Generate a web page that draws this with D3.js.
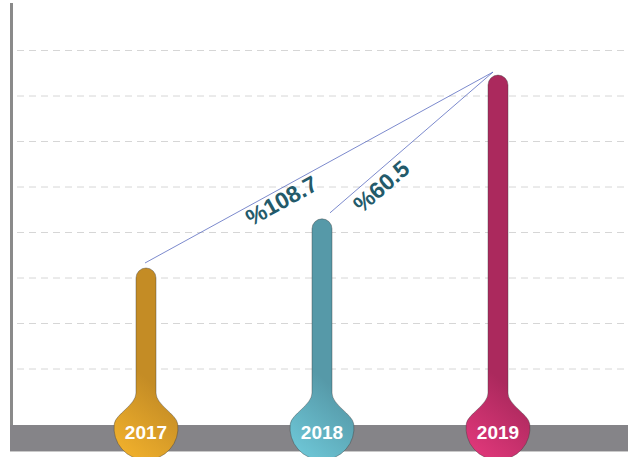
<!DOCTYPE html>
<html>
<head>
<meta charset="utf-8">
<script src="https://cdn.jsdelivr.net/npm/d3@7"></script>
<style>
html,body{margin:0;padding:0;background:#fff;}
svg{display:block;}
</style>
</head>
<body>
<svg id="chart" width="637" height="457"></svg>
<script>
// ---- data ----
const years = ["2017", "2018", "2019"];
const values = [32.2, 43.0, 74.6];
const darkColors = ["#c48c25", "#5699a8", "#ab295d"];
const lightColors = ["#f5b42d", "#70cbdb", "#e5397d"];
const gridTicks = [10, 20, 30, 40, 50, 60, 70, 80];
const growthFrom = ["2017", "2018"];
const growthTo = ["2019", "2019"];
const growthLabels = ["%108.7", "%60.5"];

// ---- layout ----
const svg = d3.select("#chart");
const x = d3.scalePoint().domain(years).range([146, 498]);
const y = d3.scaleLinear().domain([0, 80]).range([414.5, 50.5]);

const defs = svg.append("defs");

// gridlines
svg.append("g").selectAll("line").data(gridTicks).join("line")
  .attr("x1", 17).attr("x2", 627)
  .attr("y1", d => y(d)).attr("y2", d => y(d))
  .attr("stroke", "#d6d6d6").attr("stroke-width", 1)
  .attr("stroke-dasharray", "7,5");

// base bar
svg.append("rect").attr("x", 10).attr("y", 425).attr("width", 618).attr("height", 26)
  .attr("fill", "#858488");
svg.append("line").attr("x1", 10).attr("x2", 628).attr("y1", 451.5).attr("y2", 451.5)
  .attr("stroke", "#c9c9c9").attr("stroke-width", 1);

// left axis
svg.append("line").attr("x1", 11.5).attr("x2", 11.5).attr("y1", 3).attr("y2", 425)
  .attr("stroke", "#8a8a8a").attr("stroke-width", 3);

// bars
const w = 10, R = 32, cy = 428, yf = 393, yj = 424;
const jx = Math.sqrt(R * R - (cy - yj) * (cy - yj));
const tx = (cy - yj) / R, ty = jx / R; // tangent direction at join
const hEnd = 10, hStart = 12;
function barPath(cx, top) {
  return `M${cx - w},${top + w} A${w},${w} 0 0 1 ${cx + w},${top + w} ` +
    `L${cx + w},${yf} C${cx + w},${yf + hStart} ${cx + jx - hEnd * tx},${yj - hEnd * ty} ${cx + jx},${yj} ` +
    `A${R},${R} 0 1 1 ${cx - jx},${yj} ` +
    `C${cx - jx + hEnd * tx},${yj - hEnd * ty} ${cx - w},${yf + hStart} ${cx - w},${yf} Z`;
}

years.forEach((yr, i) => {
  const cx = x(yr);
  const g = defs.append("linearGradient").attr("id", "g" + i)
    .attr("gradientUnits", "userSpaceOnUse")
    .attr("x1", cx - 30).attr("y1", 458).attr("x2", cx + 22).attr("y2", 396);
  g.append("stop").attr("offset", 0).attr("stop-color", lightColors[i]);
  g.append("stop").attr("offset", 1).attr("stop-color", darkColors[i]);
});

const bars = svg.append("g").selectAll("g").data(years).join("g");
bars.append("path")
  .attr("d", (d, i) => barPath(x(d), y(values[i])))
  .attr("fill", (d, i) => `url(#g${i})`)
  .attr("stroke", "rgba(60,60,60,0.45)").attr("stroke-width", 0.9);
bars.append("text")
  .attr("x", d => x(d)).attr("y", 439)
  .attr("text-anchor", "middle")
  .attr("font-family", "Liberation Sans, Arial, sans-serif")
  .attr("font-weight", "bold").attr("font-size", 19)
  .attr("fill", "#fff")
  .text(d => d);

// growth connectors
const idx = yr => years.indexOf(yr);
const startOff = [[-1, -5], [8, -6]];
const labelT = [0.377, 0.26];
const labelPerp = [11, 13.5];
growthLabels.forEach((lab, k) => {
  const a = idx(growthFrom[k]), b = idx(growthTo[k]);
  const p0 = [x(years[a]) + startOff[k][0], y(values[a]) + startOff[k][1]];
  const p1 = [x(years[b]) - 5, y(values[b]) - 3];
  svg.append("line")
    .attr("x1", p0[0]).attr("y1", p0[1]).attr("x2", p1[0]).attr("y2", p1[1])
    .attr("stroke", "#5a6cc0").attr("stroke-width", 0.8);
  const dx = p1[0] - p0[0], dy = p1[1] - p0[1];
  const len = Math.hypot(dx, dy);
  const ux = dx / len, uy = dy / len;
  const px = -uy, py = ux;
  const t = labelT[k];
  const cxl = p0[0] + dx * t + px * labelPerp[k];
  const cyl = p0[1] + dy * t + py * labelPerp[k];
  const ang = Math.atan2(dy, dx) * 180 / Math.PI;
  svg.append("text")
    .attr("transform", `translate(${cxl},${cyl}) rotate(${ang})`)
    .attr("text-anchor", "middle").attr("dominant-baseline", "central")
    .attr("font-family", "Liberation Sans, Arial, sans-serif")
    .attr("font-weight", "bold").attr("font-size", 23)
    .attr("fill", "#235a6a")
    .text(lab);
});
</script>
</body>
</html>
